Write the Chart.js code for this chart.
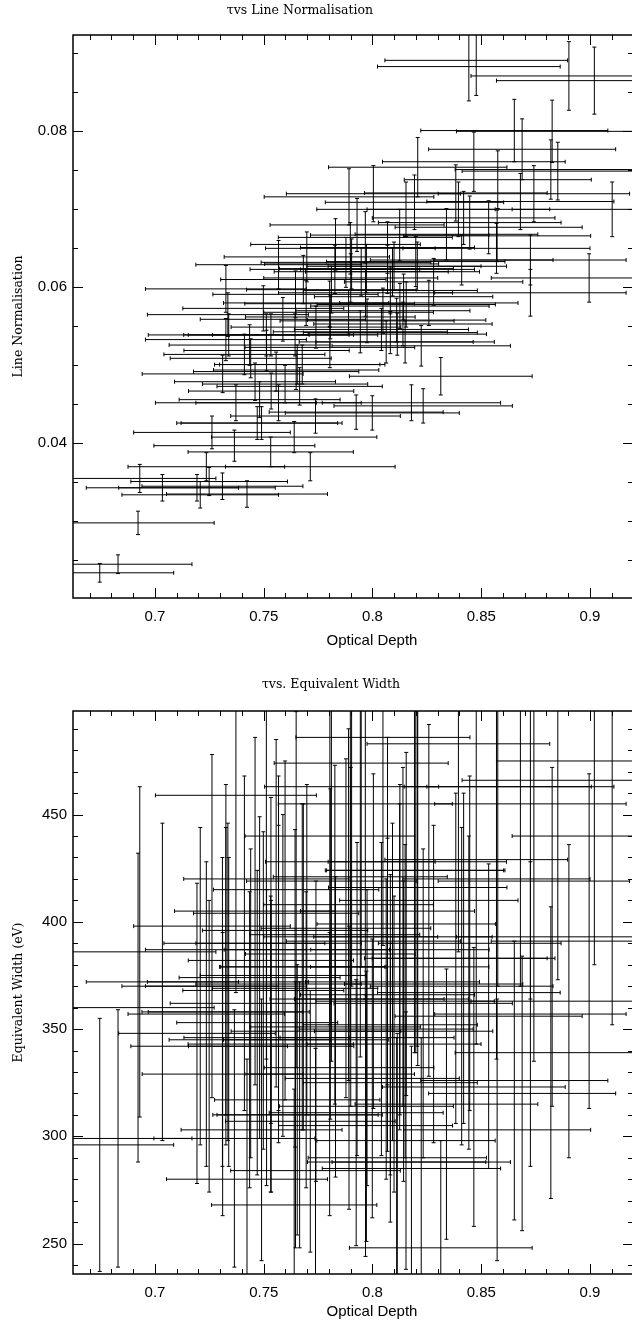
<!DOCTYPE html>
<html>
<head>
<meta charset="utf-8">
<script src="https://cdn.jsdelivr.net/npm/chart.js@4.4.1/dist/chart.umd.min.js"></script>
<style>
  html, body { margin: 0; padding: 0; overflow: hidden; background: #fff; }
  .panel { position: absolute; left: 0; }
</style>
</head>
<body>
<div class="panel" style="top:0;width:640px;height:650px"><canvas id="normChart" width="640" height="650"></canvas></div>
<div class="panel" style="top:650px;width:640px;height:678px"><canvas id="ewChart" width="640" height="678"></canvas></div>
<script>
'use strict';

// optical depth per spectrum (shared by both panels) and its error
const tau = [
    0.6746, 0.6830, 0.6922, 0.6930, 0.7249, 0.7034, 0.7193, 0.7310, 0.7208, 0.7423,
    0.7236, 0.7714, 0.7532, 0.7365, 0.7262, 0.7640, 0.7470, 0.7490,
    0.7929, 0.8125, 0.7967, 0.7830, 0.7898, 0.7698, 0.7878, 0.7568, 0.7904, 0.7827,
    0.7948, 0.7682, 0.7900, 0.7326, 0.7811, 0.7646, 0.7695, 0.7803, 0.7498, 0.7335,
    0.7806, 0.7588, 0.7740, 0.7944, 0.7339, 0.7512, 0.7533, 0.7644, 0.7326, 0.7435,
    0.7513, 0.7411, 0.7440, 0.7654, 0.7677, 0.7311, 0.7557, 0.7649, 0.7460, 0.7598,
    0.7665, 0.7534, 0.7372, 0.7481, 0.7568, 0.7738, 0.7999,
    0.8447, 0.8534, 0.8340, 0.8573, 0.8069, 0.8410, 0.8199, 0.8206, 0.8099, 0.8092,
    0.8069, 0.7972, 0.8281, 0.8082, 0.7968, 0.8143, 0.8259, 0.8155, 0.8126, 0.8048,
    0.7890, 0.8111, 0.7975, 0.8140, 0.8041, 0.8082, 0.8114, 0.8150, 0.8063, 0.7804,
    0.8477, 0.8443, 0.8903, 0.9020, 0.8652, 0.8826, 0.8688, 0.8466, 0.8208, 0.8820,
    0.8852, 0.8576, 0.8004, 0.8383, 0.8742, 0.9102, 0.7892, 0.8193, 0.8154, 0.8680,
    0.8395, 0.8419,
    0.8726, 0.8726, 0.8996, 0.8570, 0.8314, 0.8224, 0.8179, 0.8233, 0.7925
];
const tauErr = [
    0.034, 0.034, 0.035, 0.035, 0.036, 0.035, 0.036, 0.037, 0.036, 0.037,
    0.036, 0.039, 0.038, 0.037, 0.036, 0.038, 0.037, 0.037,
    0.040, 0.041, 0.040, 0.039, 0.039, 0.038, 0.039, 0.038, 0.040, 0.039,
    0.040, 0.038, 0.040, 0.037, 0.039, 0.038, 0.038, 0.039, 0.037, 0.037,
    0.039, 0.038, 0.039, 0.040, 0.037, 0.038, 0.038, 0.038, 0.037, 0.037,
    0.038, 0.037, 0.037, 0.038, 0.038, 0.037, 0.038, 0.038, 0.037, 0.038,
    0.038, 0.038, 0.037, 0.037, 0.038, 0.039, 0.040,
    0.042, 0.043, 0.042, 0.043, 0.040, 0.042, 0.041, 0.041, 0.040, 0.040,
    0.040, 0.040, 0.041, 0.040, 0.040, 0.041, 0.041, 0.041, 0.041, 0.040,
    0.039, 0.041, 0.040, 0.041, 0.040, 0.040, 0.041, 0.041, 0.040, 0.039,
    0.042, 0.042, 0.045, 0.045, 0.043, 0.044, 0.043, 0.042, 0.041, 0.044,
    0.044, 0.043, 0.040, 0.042, 0.044, 0.046, 0.039, 0.041, 0.041, 0.043,
    0.042, 0.042,
    0.044, 0.044, 0.045, 0.043, 0.042, 0.041, 0.041, 0.041, 0.040
];

// line normalisation (top panel)
const lineNorm = [
    0.0234, 0.0245, 0.0298, 0.0355, 0.0351, 0.0343, 0.0343, 0.0345, 0.0334, 0.0335,
    0.0370, 0.0370, 0.0389, 0.0397, 0.0414, 0.0408, 0.0426, 0.0426,
    0.0680, 0.0667, 0.0664, 0.0655, 0.0650, 0.0639, 0.0632, 0.0629, 0.0630, 0.0623,
    0.0620, 0.0610, 0.0612, 0.0598, 0.0597, 0.0591, 0.0580, 0.0579, 0.0573, 0.0565,
    0.0562, 0.0559, 0.0549, 0.0543, 0.0539, 0.0539, 0.0539, 0.0539, 0.0533, 0.0526,
    0.0519, 0.0514, 0.0509, 0.0501, 0.0501, 0.0489, 0.0492, 0.0494, 0.0479, 0.0476,
    0.0473, 0.0467, 0.0452, 0.0456, 0.0452, 0.0435, 0.0439,
    0.0683, 0.0677, 0.0668, 0.0666, 0.0651, 0.0635, 0.0633, 0.0627, 0.0627, 0.0620,
    0.0623, 0.0624, 0.0607, 0.0596, 0.0593, 0.0588, 0.0580, 0.0578, 0.0576, 0.0570,
    0.0568, 0.0558, 0.0557, 0.0553, 0.0546, 0.0542, 0.0540, 0.0530, 0.0530, 0.0523,
    0.0891, 0.0883, 0.0871, 0.0865, 0.0801, 0.0800, 0.0777, 0.0761, 0.0754, 0.0751,
    0.0749, 0.0738, 0.0720, 0.0721, 0.0720, 0.0700, 0.0716, 0.0709, 0.0700, 0.0710,
    0.0700, 0.0689,
    0.0635, 0.0593, 0.0612, 0.0650, 0.0486, 0.0525, 0.0452, 0.0448, 0.0440
];
const lineNormErr = [
    0.0012, 0.0012, 0.0015, 0.0018, 0.0018, 0.0017, 0.0017, 0.0017, 0.0017, 0.0017,
    0.0018, 0.0018, 0.0019, 0.0020, 0.0021, 0.0020, 0.0021, 0.0021,
    0.0034, 0.0033, 0.0033, 0.0033, 0.0033, 0.0032, 0.0032, 0.0031, 0.0032, 0.0031,
    0.0031, 0.0031, 0.0031, 0.0030, 0.0030, 0.0030, 0.0029, 0.0029, 0.0029, 0.0028,
    0.0028, 0.0028, 0.0027, 0.0027, 0.0027, 0.0027, 0.0027, 0.0027, 0.0027, 0.0026,
    0.0026, 0.0026, 0.0025, 0.0025, 0.0025, 0.0024, 0.0025, 0.0025, 0.0024, 0.0024,
    0.0024, 0.0023, 0.0023, 0.0023, 0.0023, 0.0022, 0.0022,
    0.0034, 0.0034, 0.0033, 0.0033, 0.0033, 0.0032, 0.0032, 0.0031, 0.0031, 0.0031,
    0.0031, 0.0031, 0.0030, 0.0030, 0.0030, 0.0029, 0.0029, 0.0029, 0.0029, 0.0029,
    0.0028, 0.0028, 0.0028, 0.0028, 0.0027, 0.0027, 0.0027, 0.0027, 0.0027, 0.0026,
    0.0045, 0.0044, 0.0044, 0.0043, 0.0040, 0.0040, 0.0039, 0.0038, 0.0038, 0.0038,
    0.0037, 0.0037, 0.0036, 0.0036, 0.0036, 0.0035, 0.0036, 0.0035, 0.0035, 0.0036,
    0.0035, 0.0034,
    0.0032, 0.0030, 0.0031, 0.0032, 0.0024, 0.0026, 0.0023, 0.0022, 0.0022
];

// equivalent width in eV (bottom panel)
const eqWidth = [
    296, 299, 360, 386, 342, 372, 348, 358, 370, 280,
    357, 307, 343, 299, 398, 268, 353, 303,
    364, 379, 455, 351, 428, 387, 397, 390, 463, 394,
    474, 379, 393, 387, 419, 310, 345, 329, 368, 372,
    385, 375, 349, 421, 358, 420, 382, 369, 370, 345,
    346, 390, 362, 317, 379, 329, 404, 415, 405, 396,
    310, 342, 459, 374, 371, 284, 327,
    390, 356, 315, 303, 405, 370, 424, 428, 343, 372,
    366, 314, 371, 325, 305, 349, 410, 399, 387, 486,
    408, 288, 346, 393, 364, 352, 290, 363, 350, 440,
    429, 367, 363, 475, 326, 393, 320, 323, 416, 339,
    466, 463, 391, 383, 419, 440, 332, 424, 298, 463,
    483, 383,
    455, 357, 391, 420, 248, 288, 285, 362, 311
];
const eqWidthErr = [
    59, 60, 72, 77, 68, 74, 70, 72, 74, 56,
    71, 61, 69, 60, 80, 54, 71, 61,
    73, 76, 91, 70, 86, 77, 79, 78, 93, 79,
    95, 76, 79, 77, 84, 62, 69, 66, 74, 74,
    77, 75, 70, 84, 72, 84, 76, 74, 74, 69,
    69, 78, 72, 63, 76, 66, 81, 83, 81, 79,
    62, 68, 92, 75, 74, 57, 65,
    78, 71, 63, 61, 81, 74, 85, 86, 69, 74,
    73, 63, 74, 65, 61, 70, 82, 80, 77, 97,
    82, 58, 69, 79, 73, 70, 58, 73, 70, 88,
    86, 73, 73, 95, 65, 79, 64, 65, 83, 68,
    93, 93, 78, 77, 84, 88, 66, 85, 60, 93,
    97, 77,
    91, 71, 78, 84, 50, 58, 57, 72, 62
];

// labelled ticks
const tauTicks = [0.7, 0.75, 0.8, 0.85, 0.9];
const normTicks = [0.04, 0.06, 0.08];
const ewTicks = [250, 300, 350, 400, 450];

const TICK_FONT = { family: '"Liberation Sans", Arial, sans-serif', size: 15 };
const SERIF = '12.5px "DejaVu Serif", serif';

// crosses: horizontal bar for tau error, vertical bar for y error
const errorBarPlugin = {
    id: 'errorBars',
    afterDatasetsDraw(chart) {
        const { ctx, chartArea: a, scales } = chart;
        const xs = scales.x, ys = scales.y;
        ctx.save();
        ctx.beginPath();
        ctx.rect(a.left, a.top, a.right - a.left, a.bottom - a.top);
        ctx.clip();
        ctx.strokeStyle = '#000';
        ctx.lineWidth = 1;
        chart.data.datasets[0].data.forEach(function(p) {
            const px = xs.getPixelForValue(p.x);
            const py = ys.getPixelForValue(p.y);
            const x0 = xs.getPixelForValue(p.x - p.xErr);
            const x1 = xs.getPixelForValue(p.x + p.xErr);
            const y0 = ys.getPixelForValue(p.y - p.yErr);
            const y1 = ys.getPixelForValue(p.y + p.yErr);
            ctx.beginPath();
            ctx.moveTo(x0, py); ctx.lineTo(x1, py);
            ctx.moveTo(x0, py - 2); ctx.lineTo(x0, py + 2);
            ctx.moveTo(x1, py - 2); ctx.lineTo(x1, py + 2);
            ctx.moveTo(px, y0); ctx.lineTo(px, y1);
            ctx.moveTo(px - 2, y0); ctx.lineTo(px + 2, y0);
            ctx.moveTo(px - 2, y1); ctx.lineTo(px + 2, y1);
            ctx.stroke();
        });
        ctx.restore();
    }
};

// box with inward ticks on all four sides, plus the text labels
const framePlugin = {
    id: 'frame',
    afterDraw(chart, args, opts) {
        const { ctx, chartArea: a, scales } = chart;
        const xs = scales.x, ys = scales.y;
        ctx.save();
        ctx.strokeStyle = '#000';
        ctx.lineWidth = 1;
        ctx.beginPath();
        for (let k = Math.ceil(xs.min * 100); k <= Math.floor(xs.max * 100); k++) {
            const len = k % 5 === 0 ? 10 : 5;
            const px = Math.round(xs.getPixelForValue(k / 100)) + 0.5;
            ctx.moveTo(px, a.bottom); ctx.lineTo(px, a.bottom - len);
            ctx.moveTo(px, a.top); ctx.lineTo(px, a.top + len);
        }
        const step = opts.yMinor;
        for (let k = Math.ceil(ys.min / step); k <= Math.floor(ys.max / step); k++) {
            const len = k % opts.yMajorEvery === 0 ? 10 : 5;
            const py = Math.round(ys.getPixelForValue(k * step)) + 0.5;
            ctx.moveTo(a.left, py); ctx.lineTo(a.left + len, py);
            ctx.moveTo(a.right, py); ctx.lineTo(a.right - len, py);
        }
        ctx.stroke();
        ctx.lineWidth = 1.5;
        ctx.strokeRect(a.left, a.top, a.right - a.left, a.bottom - a.top);

        ctx.fillStyle = '#000';
        ctx.textAlign = 'center';
        ctx.textBaseline = 'alphabetic';
        ctx.font = SERIF;
        ctx.fillText(opts.title, opts.titleX, opts.titleY);
        ctx.font = '15px "Liberation Sans", Arial, sans-serif';
        ctx.fillText('Optical Depth', opts.xLabelX, opts.xLabelY);
        ctx.save();
        ctx.translate(opts.yLabelX, (a.top + a.bottom) / 2);
        ctx.rotate(-Math.PI / 2);
        ctx.font = SERIF;
        ctx.textBaseline = 'middle';
        ctx.fillText(opts.yLabel, 0, 0);
        ctx.restore();
        ctx.restore();
    }
};

function buildErrorChart(canvasId, yValues, yErrors, yCfg, frameCfg, topPad, xAxisHeight) {
    const points = tau.map(function(t, i) {
        return { x: t, y: yValues[i], xErr: tauErr[i], yErr: yErrors[i] };
    });
    return new Chart(document.getElementById(canvasId), {
        type: 'scatter',
        data: { datasets: [{ data: points, pointRadius: 0, showLine: false }] },
        options: {
            responsive: false,
            animation: false,
            devicePixelRatio: 1,
            events: [],
            layout: { padding: { top: topPad, right: 7, left: 0, bottom: 0 } },
            plugins: {
                legend: { display: false },
                tooltip: { enabled: false },
                frame: frameCfg
            },
            scales: {
                x: {
                    type: 'linear',
                    min: 0.6623,
                    max: 0.91977,
                    grid: { display: false, drawTicks: false },
                    border: { display: false },
                    ticks: { font: TICK_FONT, color: '#000', padding: 10, maxRotation: 0, autoSkip: false,
                        callback: function(v) { return String(v); } },
                    afterBuildTicks: function(s) { s.ticks = tauTicks.map(function(v) { return { value: v }; }); },
                    afterFit: function(s) { s.height = xAxisHeight; }
                },
                y: {
                    type: 'linear',
                    min: yCfg.min,
                    max: yCfg.max,
                    grid: { display: false, drawTicks: false },
                    border: { display: false },
                    ticks: { font: TICK_FONT, color: '#000', padding: 6, autoSkip: false,
                        callback: function(v) { return String(v); } },
                    afterBuildTicks: function(s) { s.ticks = yCfg.ticks.map(function(v) { return { value: v }; }); },
                    afterFit: function(s) { s.width = 73; }
                }
            }
        },
        plugins: [errorBarPlugin, framePlugin]
    });
}

// tau vs line normalisation
buildErrorChart('normChart', lineNorm, lineNormErr,
    { min: 0.02017, max: 0.09235, ticks: normTicks },
    { yMinor: 0.005, yMajorEvery: 4, title: '\u03c4vs Line Normalisation', titleX: 300, titleY: 14,
      xLabelX: 372, xLabelY: 645, yLabel: 'Line Normalisation', yLabelX: 19 },
    35, 52);

// tau vs equivalent width
buildErrorChart('ewChart', eqWidth, eqWidthErr,
    { min: 235.8, max: 498.3, ticks: ewTicks },
    { yMinor: 10, yMajorEvery: 5, title: '\u03c4vs. Equivalent Width', titleX: 331, titleY: 38,
      xLabelX: 372, xLabelY: 666, yLabel: 'Equivalent Width (eV)', yLabelX: 19 },
    61, 54);
</script>
</body>
</html>
